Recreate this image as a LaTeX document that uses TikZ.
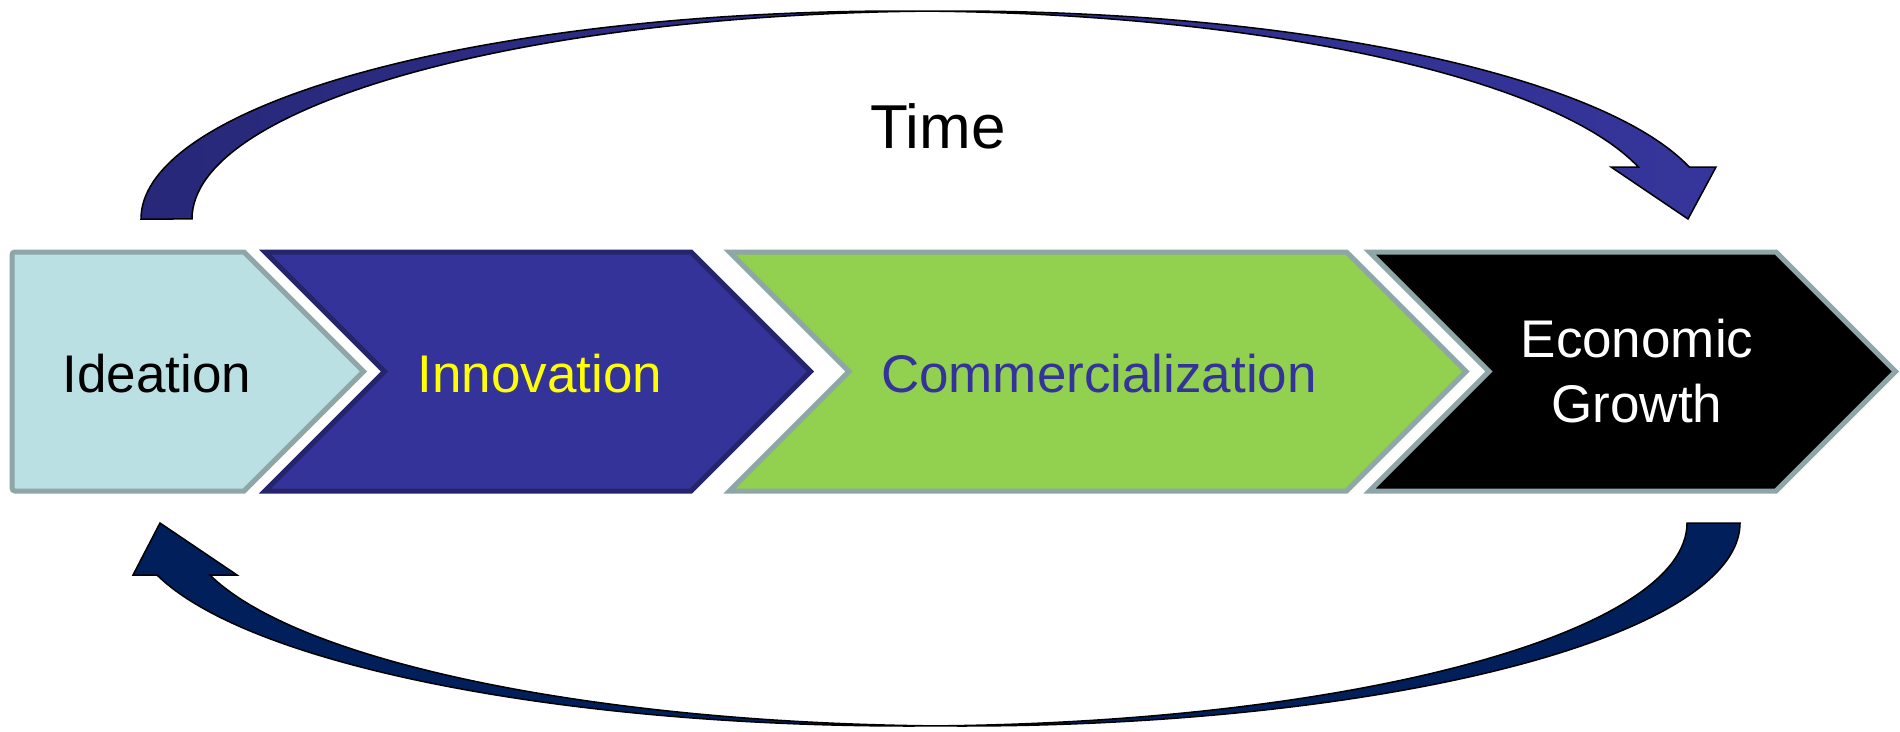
\documentclass[tikz,border=0pt]{standalone}
\usepackage{fontspec}
\setmainfont{Liberation Sans}

\definecolor{ideafill}{HTML}{BBE0E3}
\definecolor{edgegray}{HTML}{8EA6A7}
\definecolor{innofill}{HTML}{333399}
\definecolor{innoedge}{HTML}{25256E}
\definecolor{commfill}{HTML}{92D050}
\definecolor{arcleft}{HTML}{28287A}
\definecolor{arcright}{HTML}{35359B}
\definecolor{lowfill}{HTML}{001F5B}
\definecolor{textyellow}{HTML}{FFFF00}

\begin{document}
\begin{tikzpicture}[x=1pt, y=1pt,
  stage/.style={draw=edgegray, line width=5pt, line join=miter},
  stagetext/.style={font=\fontsize{53}{65}\selectfont, inner sep=0pt, align=center},
  bendarrow/.style={draw=black, line width=1.5pt, line join=miter}]

\useasboundingbox (0,0) rectangle (1900,-731);

% process stages
\path[stage, fill=ideafill]
  (244,-252) -- (363.5,-371.5) -- (244,-491)
  [rounded corners=3pt] -- (12,-491) -- (12,-252) [sharp corners] -- cycle;
\path[stage, fill=innofill, draw=innoedge]
  (265,-252) -- (691,-252) -- (810.5,-371.5) -- (691,-491) -- (265,-491) -- (384.5,-371.5) -- cycle;
\path[stage, fill=commfill]
  (729.5,-252) -- (1346.5,-252) -- (1466,-371.5) -- (1346.5,-491) -- (729.5,-491) -- (849,-371.5) -- cycle;
\path[stage, fill=black]
  (1369.5,-252) -- (1776,-252) -- (1895.5,-371.5) -- (1776,-491) -- (1369.5,-491) -- (1489,-371.5) -- cycle;

\node[stagetext, anchor=base, text=black] (ideation) at (157,-392) {Ideation};
\node[stagetext, anchor=base, text=textyellow] (innovation) at (540,-392) {Innovation};
\node[stagetext, anchor=base, text=innofill] (commercial) at (1099,-392) {Commercialization};
\node[stagetext, anchor=center, text=white] (growth) at (1637,-371.5) {Economic\\Growth};

% curved arrow over the stages
\path[bendarrow, left color=arcleft, right color=arcright]
  (141,-219)
  arc[start angle=180, end angle=88.079, x radius=760.7, y radius=208]
  arc[start angle=91.921, end angle=14.4775, x radius=760.7, y radius=208]
  -- (1716,-167) -- (1688,-219) -- (1611,-167) -- (1638.25,-167)
  arc[start angle=14.4775, end angle=88.079, x radius=760.7, y radius=208]
  arc[start angle=91.921, end angle=180, x radius=760.7, y radius=208]
  -- cycle;

\node[font=\fontsize{62}{74}\selectfont, inner sep=0pt, anchor=base] (time) at (938,-148) {Time};

% curved arrow returning under the stages
\path[bendarrow, fill=lowfill]
  (1740,-523)
  arc[start angle=360, end angle=268.048, x radius=778, y radius=203]
  arc[start angle=271.952, end angle=194.842, x radius=778, y radius=203]
  -- (133,-575) -- (160,-523) -- (237,-575) -- (209.96,-575)
  arc[start angle=194.842, end angle=268.048, x radius=778, y radius=203]
  arc[start angle=271.952, end angle=360, x radius=778, y radius=203]
  -- cycle;

\end{tikzpicture}
\end{document}
